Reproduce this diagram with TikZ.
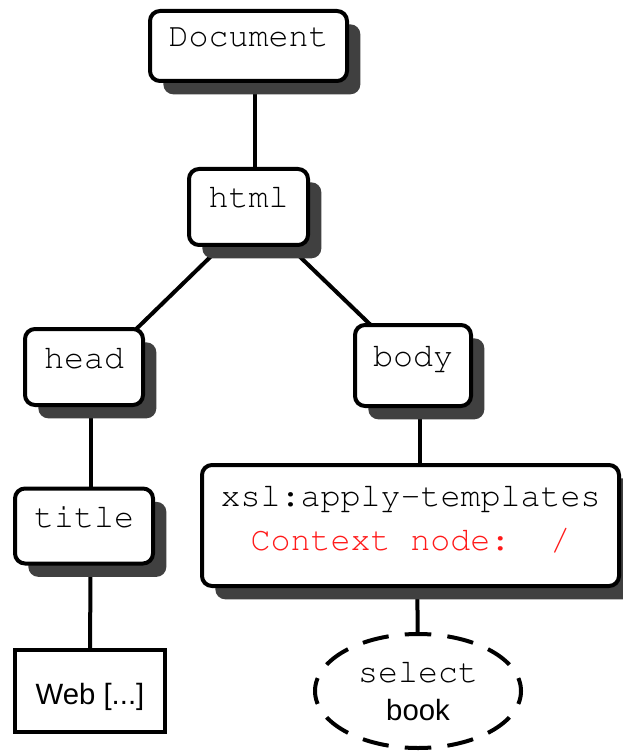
\documentclass[tikz,border=0pt]{standalone}
\usepackage{fontspec}
\setmainfont{Liberation Sans}
\usetikzlibrary{shadows,backgrounds,shapes.geometric}
\definecolor{shade}{HTML}{404040}
\definecolor{ctxred}{HTML}{FF1A1A}
% Courier for the markup names
\newcommand\codefont{\fontencoding{OT1}\fontfamily{pcr}\fontseries{m}\fontshape{n}\selectfont}

\begin{document}
\begin{tikzpicture}[x=0.75pt,y=-0.75pt,
  every node/.style={inner sep=0pt, outer sep=0pt},
  elem/.style={draw, line width=3pt, rounded corners=7.5pt, fill=white,
    drop shadow={shadow xshift=10pt, shadow yshift=-10pt, fill=shade, opacity=1},
    font=\fontsize{25}{33}\codefont},
  oneline/.style={text height=15pt, text depth=13.5pt},
  leaf/.style={draw, line width=3pt, fill=white, font=\fontsize{22}{26}\selectfont,
    text height=20.2pt, text depth=0pt},
  query/.style={ellipse, draw, line width=3pt, fill=white,
    dash pattern=on 19.9pt off 12.17pt, dash phase=9.95pt,
    font=\fontsize{22}{28.5}\selectfont, align=center},
  link/.style={line width=3pt},
  cc/.style={xshift=4.875pt, yshift=-4.875pt}]

\useasboundingbox (0,0) rectangle (622,755);

% tree nodes
\node[elem, oneline, minimum width=147.75pt, minimum height=52.5pt] (doc) at (248.5,46) {Document};
\node[elem, oneline, minimum width=89.25pt, minimum height=57pt] (html) at (248.5,207) {html};
\node[elem, oneline, minimum width=88.5pt, minimum height=57pt] (head) at (84,367) {head};
\node[elem, oneline, minimum width=87pt, minimum height=60.75pt] (body) at (413,365.5) {body};
\node[elem, oneline, minimum width=103.5pt, minimum height=56.25pt] (title) at (84,526) {title};
\node[elem, align=center, minimum width=312.75pt, minimum height=90.75pt] (apply) at (410.5,525.5)
  {xsl:apply-templates\\\textcolor{ctxred}{Context node:~~/}\rule[-11.5pt]{0pt}{0pt}};
\node[leaf, minimum width=112.5pt, minimum height=61.5pt] (web) at (90,691) {Web [...]};
\node[query, minimum width=154.5pt, minimum height=85.5pt] (select) at (418,691)
  {{\fontsize{25}{28.5}\codefont select}\\book};

% connectors, behind the boxes and their shadows
\begin{scope}[on background layer]
  \fill[white] (0,0) rectangle (622,755);
  \draw[link] ([cc]doc.center) -- ([cc]html.center);
  \draw[link] ([cc]html.center) -- ([cc]head.center);
  \draw[link] ([cc]html.center) -- ([cc]body.center);
  \draw[link] ([cc]head.center) -- ([cc]title.center);
  \draw[link] ([cc]title.center) -- (web.center);
  \draw[link] ([cc]body.center) -- ([cc]body.center |- apply.center);
  \draw[link] ([cc]apply.center) -- (select.center);
\end{scope}
\end{tikzpicture}
\end{document}
